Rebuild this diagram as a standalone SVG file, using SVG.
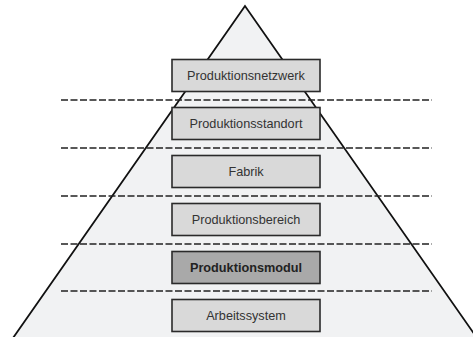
<svg xmlns="http://www.w3.org/2000/svg" width="473" height="337" viewBox="0 0 473 337">
<style>
.box{fill:#d9d9d9;stroke:#2a2a2a;stroke-width:1.6}
.hi{fill:#a9a9a9}
.lbl{font-family:"Liberation Sans",Arial,sans-serif;font-size:12.7px;fill:#333;text-anchor:middle}
.b{font-weight:bold;fill:#222}
.dash{stroke:#222;stroke-width:1.6;stroke-dasharray:7 2.5;fill:none}
</style>
<rect width="473" height="337" fill="#fff"/>
<polygon id="pyramid" points="245,6 13,338 477,338" fill="#f1f2f3" stroke="#111" stroke-width="1.8" stroke-linejoin="miter"/>
<g id="connectors">
<line class="dash" x1="61" y1="100" x2="432" y2="100"/>
<line class="dash" x1="61" y1="148" x2="432" y2="148"/>
<line class="dash" x1="61" y1="196" x2="432" y2="196"/>
<line class="dash" x1="61" y1="244" x2="432" y2="244"/>
<line class="dash" x1="61" y1="291" x2="432" y2="291"/>
</g>
<g id="n1"><rect class="box" x="172" y="59.5" width="148" height="32"/><text class="lbl" x="246" y="80">Produktionsnetzwerk</text></g>
<g id="n2"><rect class="box" x="172" y="107.5" width="148" height="32"/><text class="lbl" x="246" y="128">Produktionsstandort</text></g>
<g id="n3"><rect class="box" x="172" y="155.5" width="148" height="32"/><text class="lbl" x="246" y="176">Fabrik</text></g>
<g id="n4"><rect class="box" x="172" y="203.5" width="148" height="32"/><text class="lbl" x="246" y="224">Produktionsbereich</text></g>
<g id="n5"><rect class="box hi" x="172" y="251.5" width="148" height="32"/><text class="lbl b" x="246" y="272">Produktionsmodul</text></g>
<g id="n6"><rect class="box" x="172" y="299.5" width="148" height="32"/><text class="lbl" x="246" y="320">Arbeitssystem</text></g>
</svg>
